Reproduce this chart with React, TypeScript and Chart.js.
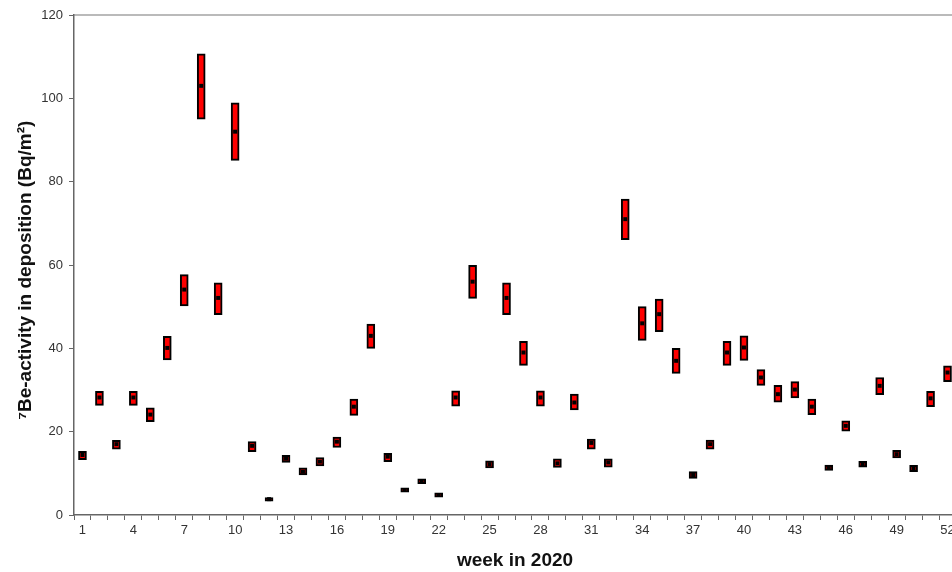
import React, { useEffect, useRef } from "react";
import { Chart, registerables } from "chart.js";

Chart.register(...registerables);

const weeks: string[] = Array.from({ length: 52 }, (_, i) => String(i + 1));

const lowValues: number[] = [
  13.3, 26.3, 15.8, 26.3, 22.4, 37.2, 50.2, 95.0, 48.1, 85.1,
  15.2, 3.3, 12.6, 9.6, 11.8, 16.2, 23.9, 40.0, 12.8, 5.5,
  7.5, 4.3, 26.1, 52.0, 11.3, 48.1, 35.9, 26.1, 11.4, 25.2,
  15.8, 11.5, 66.1, 41.9, 44.0, 34.0, 8.8, 15.8, 35.9, 37.1,
  31.1, 27.1, 28.1, 24.1, 10.7, 20.1, 11.5, 28.9, 13.7, 10.4,
  26.0, 32.0,
];

const highValues: number[] = [
  15.3, 29.7, 17.9, 29.7, 25.7, 42.9, 57.7, 110.7, 55.7, 98.9,
  17.6, 4.2, 14.3, 11.3, 13.8, 18.7, 27.8, 45.8, 14.8, 6.5,
  8.7, 5.3, 29.8, 59.9, 13.0, 55.7, 41.7, 29.8, 13.5, 29.0,
  18.2, 13.5, 75.8, 50.0, 51.8, 40.0, 10.4, 18.0, 41.7, 43.0,
  34.9, 31.1, 32.0, 27.8, 12.0, 22.6, 12.9, 33.0, 15.5, 11.9,
  29.7, 35.8,
];

const meanValues: number[] = [
  14.4, 28.2, 17.0, 28.2, 24.1, 40.1, 54.1, 103.0, 52.1, 92.0,
  16.6, 3.8, 13.5, 10.4, 12.8, 17.6, 26.0, 43.0, 14.0, 6.0,
  8.0, 4.8, 28.2, 56.0, 12.2, 52.1, 39.0, 28.2, 12.4, 27.0,
  17.3, 12.6, 71.0, 46.0, 48.2, 37.0, 9.6, 17.0, 39.0, 40.2,
  33.0, 29.0, 30.1, 26.0, 11.3, 21.4, 12.2, 31.0, 14.6, 11.1,
  28.0, 34.2,
];

const yTitle = "\u2077Be-activity in deposition (Bq/m\u00B2)  ";
const xTitle = "week in 2020";

const FONT = "'Liberation Sans', Arial, sans-serif";

const topLinePlugin = {
  id: "topLine",
  afterDraw(chart: any) {
    const { ctx, chartArea } = chart;
    ctx.save();
    ctx.strokeStyle = "#777777";
    ctx.lineWidth = 1.2;
    ctx.beginPath();
    ctx.moveTo(chartArea.left, chartArea.top);
    ctx.lineTo(chartArea.right, chartArea.top);
    ctx.stroke();
    ctx.restore();
  },
};

export default function App() {
  const ref = useRef<HTMLCanvasElement | null>(null);

  useEffect(() => {
    if (!ref.current) return;
    const chart = new Chart(ref.current, {
      type: "bar",
      data: {
        labels: weeks,
        datasets: [
          {
            type: "line",
            data: meanValues,
            showLine: false,
            pointStyle: "rect",
            pointRadius: 2.8,
            pointBorderWidth: 0,
            pointBackgroundColor: "#000000",
            pointBorderColor: "#000000",
            order: 0,
          } as any,
          {
            type: "bar",
            data: lowValues.map((l, i) => [l, highValues[i]]),
            backgroundColor: "#ff0000",
            borderColor: "#000000",
            borderWidth: 2,
            borderSkipped: false,
            barThickness: 8,
            grouped: false,
            order: 1,
          } as any,
        ],
      },
      options: {
        responsive: false,
        animation: false,
        events: [],
        layout: { padding: { top: 15, right: 3.5, bottom: 0, left: 0 } },
        plugins: {
          legend: { display: false },
          tooltip: { enabled: false },
          title: { display: false },
        },
        scales: {
          x: {
            type: "category",
            offset: true,
            grid: {
              display: true,
              drawOnChartArea: false,
              drawTicks: true,
              tickLength: 5,
              color: "#666666",
              offset: true,
            },
            border: { display: true, color: "#666666", width: 1.5 },
            ticks: {
              autoSkip: false,
              maxRotation: 0,
              minRotation: 0,
              padding: 3,
              color: "#333333",
              font: { family: FONT, size: 13 },
              callback: (_v: any, index: number) =>
                index % 3 === 0 ? weeks[index] : "",
            },
            title: {
              display: true,
              text: xTitle,
              color: "#111111",
              font: { family: FONT, size: 19, weight: "bold", lineHeight: 1.2 },
              padding: { top: 0, bottom: 0 },
            },
            afterFit: (scale: any) => {
              scale.height = 57;
            },
          },
          y: {
            min: 0,
            max: 120,
            ticks: {
              stepSize: 20,
              padding: 6,
              color: "#333333",
              font: { family: FONT, size: 13 },
            },
            grid: {
              display: true,
              drawOnChartArea: false,
              drawTicks: true,
              tickLength: 5,
              color: "#666666",
            },
            border: { display: true, color: "#666666", width: 1.5 },
            title: {
              display: true,
              text: yTitle,
              color: "#111111",
              font: { family: FONT, size: 19, weight: "bold", lineHeight: 1.2 },
              padding: { top: 14, bottom: 0 },
            },
            afterFit: (scale: any) => {
              scale.width = 74;
            },
          },
        },
      },
      plugins: [topLinePlugin],
    });
    return () => chart.destroy();
  }, []);

  return (
    <div
      style={{
        position: "fixed",
        left: 0,
        top: 0,
        width: 952,
        height: 572,
        overflow: "hidden",
        background: "#ffffff",
      }}
    >
      <canvas
        ref={ref}
        width={960}
        height={572}
        style={{ width: 960, height: 572, display: "block" }}
      />
    </div>
  );
}
